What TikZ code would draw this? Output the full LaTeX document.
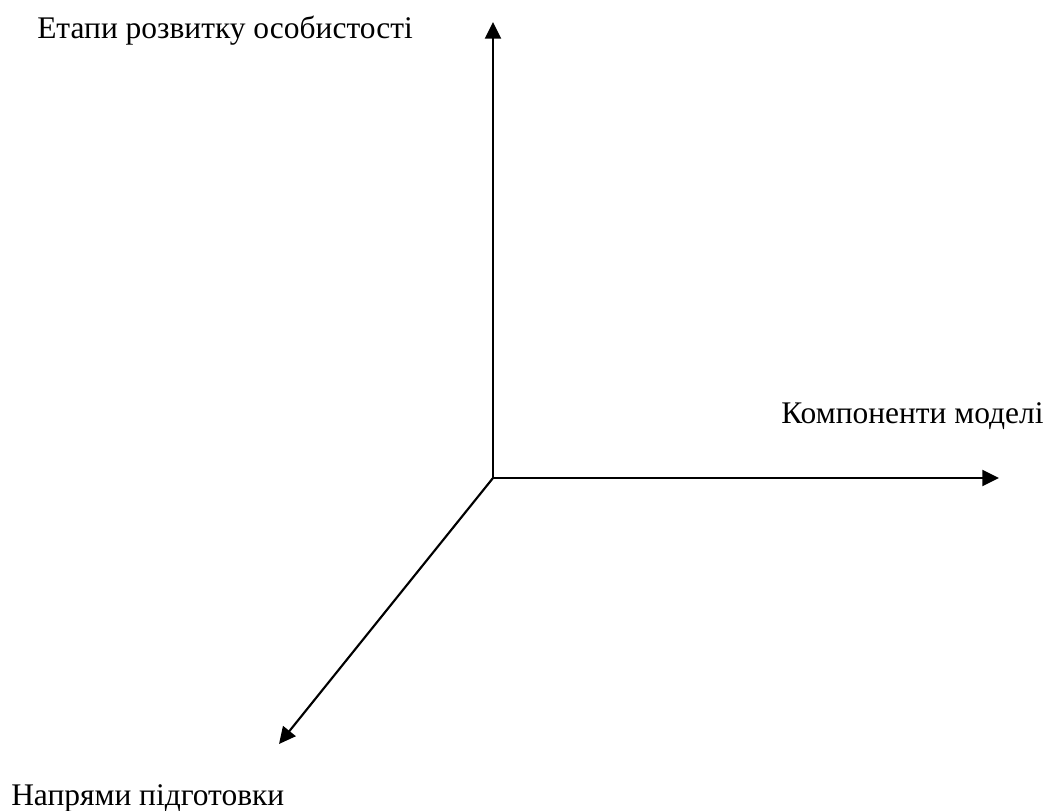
\documentclass[tikz,border=0pt]{standalone}
\usepackage{fontspec}
\setmainfont{Liberation Serif}
\usetikzlibrary{arrows.meta}
\begin{document}
\begin{tikzpicture}[x=0.75pt,y=-0.75pt,
  axis/.style={line width=1.6pt,-{Triangle[length=12.5pt,width=12pt]}},
  axislabel/.style={inner sep=0pt,font=\fontsize{23.6pt}{28pt}\selectfont}]
  \useasboundingbox (0,0) rectangle (1052,810);
  % origin and axis ends
  \coordinate (o) at (493,478);
  \coordinate (up) at (493,22);
  \coordinate (right) at (999,478);
  \coordinate (down) at (279,744);
  \draw[axis] (o) -- (up);
  \draw[axis] (o) -- (right);
  \draw[axis] (o) -- (down);
  % axis captions
  \node[axislabel,anchor=base west] (lup) at (37,38) {Етапи розвитку особистості};
  \node[axislabel,anchor=base west] (lright) at (781,423) {Компоненти моделі};
  \node[axislabel,anchor=base west] (ldown) at (11,805) {Напрями підготовки};
\end{tikzpicture}
\end{document}
